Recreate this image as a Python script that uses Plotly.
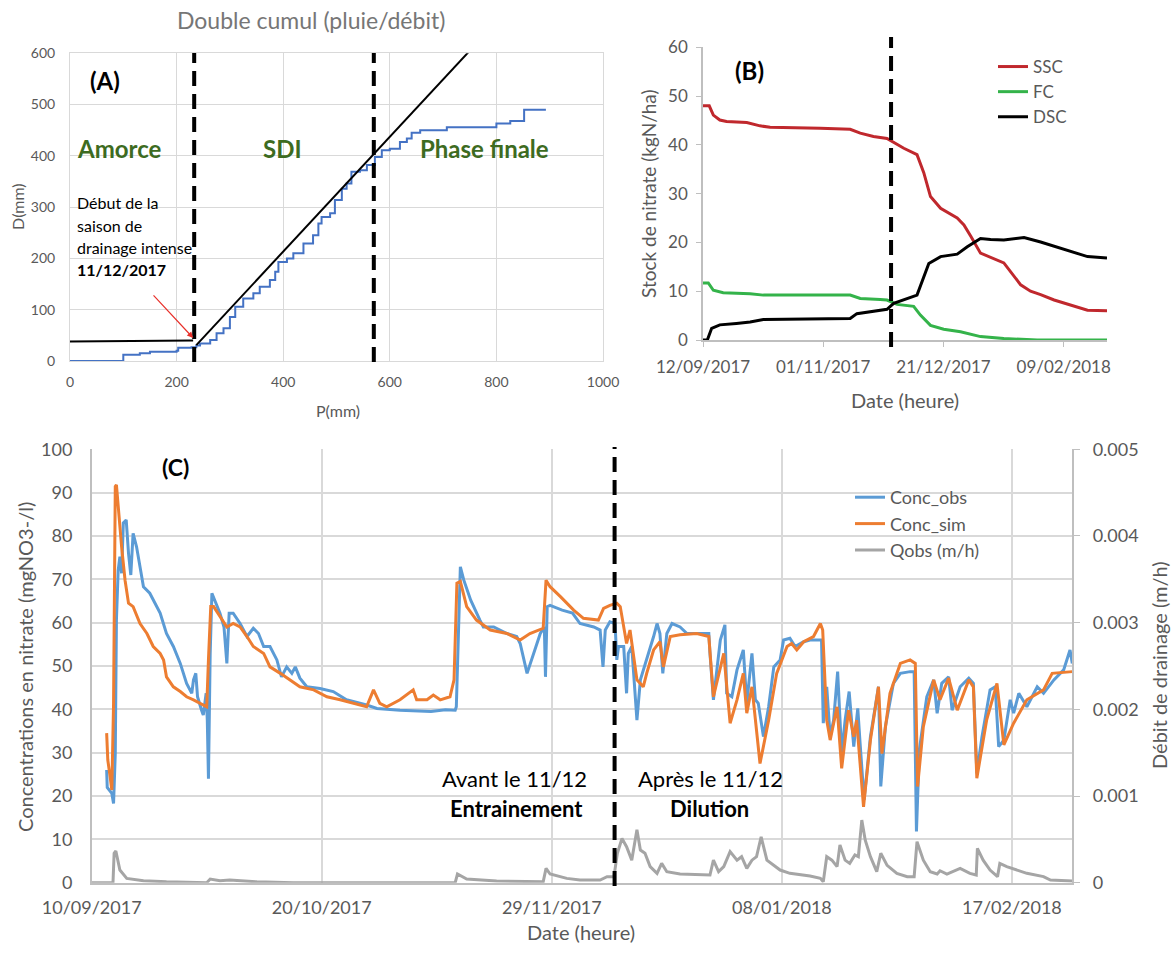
import pandas as pd
import plotly.graph_objects as go

W, H = 1172, 954
FONT = "Lato"
GRAY_TXT = "#595959"
GRID = "#d9d9d9"
AXL = "#bfbfbf"

# ---------------- Panel A : double cumul (P vs D, mm) ----------------
A_P_obs = [0, 95, 100, 131, 150, 200, 203, 228, 237, 244, 263, 275, 288, 300, 310, 325, 344, 356,
           375, 385, 391, 407, 419, 438, 456, 466, 472, 488, 497, 510, 519, 528, 544, 557, 572, 585,
           600, 619, 632, 641, 657, 707, 782, 800, 826, 850, 852, 891]
A_D_obs = [0, 0, 12, 15, 18, 20, 26, 27, 30, 34, 41, 54, 64, 86, 106, 122, 132, 145,
           158, 174, 193, 200, 210, 229, 245, 268, 281, 288, 314, 336, 346, 369, 372, 382, 398, 411,
           414, 427, 434, 445, 450, 456, 456, 463, 468, 468, 490, 492]
A_P_amorce = [0, 231]
A_D_amorce = [38, 40]
A_P_sdi = [237, 750]
A_D_sdi = [31, 605]
A_phase_limits = [233, 570]
A_arrow_P, A_arrow_D = 231, 45
A_xticks = [0, 200, 400, 600, 800, 1000]

# ---------------- Panel B : stocks (kgN/ha) ----------------
B_start = "2017-09-12"
B_end_day = 168
B_SSC_d = [0, 2.6, 4.3, 7, 9.8, 18.2, 23.7, 27.9, 48.7, 61.2, 65.4, 70.9, 76.5, 80.7, 83.5, 89,
           91.8, 94.6, 98.8, 105.7, 108.5, 111.3, 115.4, 125.1, 132.1, 136.2, 140.4, 146, 152.9, 159.9, 168]
B_SSC_v = [48, 48, 46.1, 45.1, 44.8, 44.6, 43.9, 43.6, 43.4, 43.2, 42.4, 41.7, 41.3, 40, 39.3, 38,
           34.3, 29.4, 27.0, 25.0, 23.6, 21.3, 17.8, 15.8, 11.3, 10, 9.3, 8.2, 7.2, 6.1, 6.0]
B_FC_d = [0, 2.2, 4.3, 8.4, 19.6, 25.1, 61.2, 65.4, 73.7, 76.5, 80.7, 87.6, 90.4, 94.6, 100.1,
          107.1, 115.4, 125.1, 139, 168]
B_FC_v = [11.7, 11.7, 10.2, 9.7, 9.5, 9.2, 9.2, 8.5, 8.3, 8.2, 7.3, 6.9, 5.1, 3.0, 2.2,
          1.7, 0.7, 0.3, 0.0, 0.0]
B_DSC_d = [0, 1.8, 3.6, 7, 13.9, 19.6, 25.1, 61.2, 64, 69.6, 76.5, 79.3, 83.5, 89, 93.9, 98.8,
           105.7, 109.9, 115.4, 119.6, 125.1, 133.5, 140.4, 148.7, 159.9, 168]
B_DSC_v = [0, 0, 2.4, 3.1, 3.4, 3.7, 4.2, 4.4, 5.4, 5.8, 6.3, 7.5, 8.2, 9.2, 15.7, 17.1,
           17.6, 19.1, 20.8, 20.6, 20.5, 21.0, 20.1, 18.8, 17.1, 16.8]
B_dash_date = "2017-11-29 05:00"
B_ticks = ["2017-09-12", "2017-11-01", "2017-12-21", "2018-02-09"]
B_ticklabels = ["12/09/2017", "01/11/2017", "21/12/2017", "09/02/2018"]

# ---------------- Panel C : concentrations & debit ----------------
C_start = "2017-09-10"
C_end_day = 170.5
C_obs_d = [2.6, 2.7, 3.5, 3.8, 4.1, 4.3, 4.6, 4.9, 5.2, 5.5,
           6.0, 6.4, 6.8, 7.2, 7.8, 9.0, 10.1, 11.3, 11.9, 13.0,
           14.2, 15.4, 16.5, 17.4, 17.7, 18.1, 18.4, 19.1, 19.4, 19.9,
           20.1, 20.3, 20.6, 20.9, 21.4, 22.3, 23.0, 23.5, 23.9, 24.6,
           25.8, 27.0, 28.1, 29.0, 29.9, 31.0, 32.2, 33.0, 33.9, 34.8,
           35.4, 36.2, 37.4, 39.7, 42.0, 44.3, 47.8, 49.6, 53.6, 56.0,
           59.0, 61.5, 63.2, 63.4, 63.7, 64.1, 64.7, 65.9, 67.5, 68.1,
           69.9, 72.2, 73.9, 74.5, 75.7, 76.8, 78.0, 78.7, 78.9, 79.2,
           79.7, 81.8, 83.6, 84.9, 87.3, 88.4, 88.9, 89.3, 90.1, 91.0,
           91.3, 91.6, 92.5, 93.0, 93.3, 93.9, 94.8, 95.4, 96.5, 97.7,
           98.3, 98.8, 99.3, 100.0, 100.9, 102.3, 103.5, 105.8, 107.3, 107.5,
           108.1, 109.3, 110.1, 110.4, 111.3, 112.2, 113.3, 113.9, 114.8, 115.4,
           115.9, 116.8, 117.7, 118.6, 119.7, 120.3, 121.4, 122.3, 123.8, 124.9,
           126.9, 127.2, 127.8, 128.4, 129.0, 129.7, 130.4, 131.0, 131.7, 132.5,
           133.2, 133.6, 134.3, 135.4, 136.8, 137.2, 138.0, 139.4, 140.6, 142.3,
           143.0, 143.4, 143.9, 145.2, 146.4, 147.0, 147.8, 149.0, 149.6, 151.0,
           152.5, 153.3, 153.9, 154.8, 156.2, 157.1, 157.7, 158.6, 159.7, 160.3,
           161.2, 162.6, 164.4, 165.5, 167.3, 169.0, 170.1, 170.5]
C_obs_v = [26, 22, 20.6, 18.3, 29.8, 60.6, 72, 75.2, 71.4, 83,
           83.7, 76, 71, 80.6, 77.5, 68.3, 66.8, 63.7, 62.2, 57.5,
           54.5, 50.6, 46, 43.7, 46.8, 48.3, 42.9, 39.8, 38.7, 43.7,
           37.5, 24, 52.9, 66.8, 65.2, 62.2, 59, 50.6, 62.2, 62.2,
           59.8, 56.8, 58.7, 57.5, 54.5, 54.5, 51.4, 47.5, 49.8, 48.3,
           49.8, 47.2, 45.2, 44.8, 44.1, 42.2, 41.0, 40.2, 39.8, 39.6,
           39.5, 39.9, 39.8, 40.6, 52.9, 72.9, 69.8, 65.2, 60.6, 59,
           59, 57.5, 56.8, 55.2, 48.3, 52.9, 57.5, 59, 47.5, 63.7,
           64, 62.9, 62.2, 59.8, 59, 58.3, 49.8, 58.3, 60.2, 59.8,
           51.4, 54.5, 54.5, 43.7, 52.9, 54.5, 37.5, 46.8, 51.4, 56.8,
           59.8, 57.5, 48.3, 57.5, 59.8, 59, 57.5, 57.5, 57.5, 52.9,
           42.2, 56, 59.5, 43.7, 42.9, 49.1, 53.7, 41.4, 52.9, 42.2,
           41.4, 33.7, 40.6, 49.8, 51.4, 56, 56.4, 54.5, 55.6, 56,
           56, 36.8, 45.2, 33.7, 37.5, 48.7, 29.8, 37.5, 44.1, 31.4,
           40.2, 32.2, 19.1, 33.7, 45.2, 22.2, 36, 46, 48.3, 48.7,
           48.7, 11.8, 30.6, 42.9, 46.8, 39.1, 46, 47.5, 39.8, 45.2,
           47.2, 46, 25.2, 33.7, 44.5, 45.2, 31.4, 32.9, 42.2, 39.1,
           43.7, 40.6, 45.2, 43.7, 46.8, 49.1, 53.7, 50.6]
C_sim_d = [2.6, 2.8, 3.2, 3.5, 3.8, 4.1, 4.3, 4.6, 5.2, 5.8,
           6.4, 7.2, 8.4, 9.6, 10.7, 11.9, 12.5, 13.0, 14.2, 15.4,
           16.5, 17.7, 18.8, 20.0, 20.3, 20.7, 21.2, 22.3, 23.5, 24.6,
           25.8, 27.0, 28.1, 29.9, 31.0, 32.8, 34.5, 36.2, 38.6, 40.9,
           43.2, 45.5, 47.8, 49.0, 50.1, 51.3, 53.6, 55.9, 56.5, 58.3,
           59.4, 60.6, 62.3, 63.0, 63.5, 64.1, 65.2, 66.9, 69.3, 72.2,
           74.5, 76.2, 78.5, 79.0, 79.7, 81.5, 83.8, 85.5, 88.1, 89.0,
           90.1, 91.3, 91.9, 93.0, 93.6, 94.8, 95.9, 96.5, 97.7, 98.8,
           99.4, 100.6, 102.3, 105.2, 107.3, 108.1, 109.9, 111.0, 112.2, 113.3,
           113.9, 114.8, 116.2, 117.7, 119.1, 120.9, 121.7, 122.6, 123.8, 125.5,
           126.7, 127.1, 127.8, 128.4, 129.6, 130.4, 131.6, 132.5, 133.0, 134.2,
           135.4, 136.8, 137.4, 138.8, 140.6, 142.3, 143.2, 143.6, 144.6, 146.4,
           147.5, 149.0, 150.5, 152.5, 153.3, 153.9, 155.6, 157.4, 158.6, 160.3,
           162.6, 165.5, 167.0, 170.5]
C_sim_v = [34.5, 28.3, 24.5, 21.4, 41.4, 91.4, 91.8, 86.8, 77.5, 69.8,
           64.5, 63.7, 59.8, 57.5, 54.5, 52.9, 51.4, 47.5, 45.2, 44.1,
           42.9, 42.2, 41.4, 40.6, 51.4, 63.7, 63.7, 61.4, 59, 59.8,
           59, 56.8, 54.5, 52.9, 49.8, 48.3, 46.8, 45.2, 44.5, 42.9,
           42.2, 41.4, 40.6, 44.5, 41.4, 40.6, 42.2, 44.5, 42.2, 42.2,
           43.3, 42.2, 42.9, 46.8, 69.1, 69.5, 63.7, 60.6, 58.3, 57.5,
           56, 57.5, 58.7, 69.8, 68.3, 66, 62.9, 61, 60.6, 63.3,
           64, 64.5, 63.7, 55.2, 58.3, 46.8, 45.2, 48.3, 53.7, 55.6,
           49.8, 56.8, 57.2, 57.5, 56.8, 42.9, 52.9, 36.8, 42.2, 48.3,
           39.1, 45.2, 27.5, 37.5, 48.3, 54.5, 55.2, 53.7, 55.6, 56.8,
           59.8, 58.3, 37.5, 32.9, 40.6, 26.4, 39.8, 33.7, 37.5, 17.5,
           32.9, 45.2, 29.8, 43.7, 50.6, 51.4, 50.6, 22.2, 36, 46.8,
           42.2, 47.2, 39.8, 46.8, 45.2, 24.1, 37.5, 46, 31.8, 36.8,
           42.2, 44.5, 48.3, 48.7]
C_Q_d = [0, 3.7, 3.9, 4.2, 4.9, 6.1, 9.0, 13.0, 20.0, 20.6,
         22.3, 24.0, 28.7, 35.0, 63.2, 63.6, 65.2, 70.4, 78.5, 79.0,
         79.7, 82.6, 84.9, 88.4, 89.6, 90.8, 91.4, 92.2, 93.0, 93.9,
         94.8, 95.4, 96.2, 97.1, 98.3, 99.1, 100.0, 102.3, 107.5, 108.1,
         109.0, 109.9, 111.0, 112.2, 113.0, 113.9, 114.8, 115.6, 116.4, 117.4,
         119.7, 121.4, 124.9, 126.7, 127.2, 127.8, 128.7, 129.6, 130.1, 131.0,
         131.8, 132.7, 133.3, 133.9, 134.5, 135.4, 136.5, 137.2, 138.3, 140.0,
         141.8, 143.0, 143.5, 144.6, 145.8, 147.0, 147.5, 148.7, 151.0, 152.7,
         153.8, 154.0, 155.0, 156.2, 157.5, 157.9, 159.1, 160.9, 162.6, 165.5,
         166.7, 170.5]
C_Q_v = [0, 0, 0.00034, 0.000365, 0.000146, 0.00005, 0.000023, 0.00001, 0, 0.000042,
         0.000023, 0.00003, 0.00001, 0, 0, 0.0001, 0.000042, 0.00002, 0.00001, 0.000165,
         0.0001, 0.00005, 0.00003, 0.00003, 0.00007, 0.00007, 0.00034, 0.00051, 0.000415, 0.00026,
         0.00061, 0.000377, 0.00034, 0.000185, 0.000108, 0.000223, 0.000127, 0.0001, 0.000088, 0.00026,
         0.000127, 0.000185, 0.000358, 0.00026, 0.0003, 0.000165, 0.00026, 0.0003, 0.00053, 0.00026,
         0.000146, 0.000108, 0.000077, 0.00005, 0.00001, 0.0003, 0.00026, 0.000185, 0.000435, 0.00026,
         0.000223, 0.00032, 0.0003, 0.000723, 0.00049, 0.0003, 0.000127, 0.00034, 0.0002, 0.000108,
         0.00007, 0.00007, 0.000473, 0.00026, 0.000127, 0.0001, 0.000138, 0.0001, 0.000165, 0.000108,
         0.000088, 0.000396, 0.00026, 0.000146, 0.00007, 0.000223, 0.000185, 0.000146, 0.000108, 0.00007,
         0.00003, 0.00002]
C_dash_date = "2017-12-09 22:00"
C_ticks = ["2017-09-10", "2017-10-20", "2017-11-29", "2018-01-08", "2018-02-17"]
C_ticklabels = ["10/09/2017", "20/10/2017", "29/11/2017", "08/01/2018", "17/02/2018"]
C_q_ticks = [0, 0.001, 0.002, 0.003, 0.004, 0.005]
C_q_ticklabels = ["0", "0.001", "0.002", "0.003", "0.004", "0.005"]


def px(x):
    return x / W


def py(y):
    return 1 - y / H


def dates(start, days):
    return pd.Timestamp(start) + pd.to_timedelta(days, unit="D")


fig = go.Figure()

# ---- A traces
fig.add_trace(go.Scatter(x=A_P_obs, y=A_D_obs, mode="lines", xaxis="x", yaxis="y",
                         line=dict(color="#4472c4", width=2, shape="hv"), showlegend=False))
fig.add_trace(go.Scatter(x=A_P_amorce, y=A_D_amorce, mode="lines", xaxis="x", yaxis="y",
                         line=dict(color="black", width=2), showlegend=False))
fig.add_trace(go.Scatter(x=A_P_sdi, y=A_D_sdi, mode="lines", xaxis="x", yaxis="y",
                         line=dict(color="black", width=2), showlegend=False))

# ---- B traces
fig.add_trace(go.Scatter(x=dates(B_start, B_SSC_d), y=B_SSC_v, mode="lines", name="SSC",
                         xaxis="x2", yaxis="y2", legend="legend2",
                         line=dict(color="#c0282d", width=3)))
fig.add_trace(go.Scatter(x=dates(B_start, B_FC_d), y=B_FC_v, mode="lines", name="FC",
                         xaxis="x2", yaxis="y2", legend="legend2",
                         line=dict(color="#34b34a", width=3)))
fig.add_trace(go.Scatter(x=dates(B_start, B_DSC_d), y=B_DSC_v, mode="lines", name="DSC",
                         xaxis="x2", yaxis="y2", legend="legend2",
                         line=dict(color="black", width=3)))

# ---- C traces
fig.add_trace(go.Scatter(x=dates(C_start, C_obs_d), y=C_obs_v, mode="lines", name="Conc_obs",
                         xaxis="x3", yaxis="y3", legend="legend",
                         line=dict(color="#5b9bd5", width=3)))
fig.add_trace(go.Scatter(x=dates(C_start, C_sim_d), y=C_sim_v, mode="lines", name="Conc_sim",
                         xaxis="x3", yaxis="y3", legend="legend",
                         line=dict(color="#ed7d31", width=3)))
fig.add_trace(go.Scatter(x=dates(C_start, C_Q_d), y=C_Q_v, mode="lines", name="Qobs (m/h)",
                         xaxis="x3", yaxis="y4", legend="legend",
                         line=dict(color="#a5a5a5", width=3)))

tick_a = dict(family=FONT, size=14, color=GRAY_TXT)
tick_b = dict(family=FONT, size=17, color=GRAY_TXT)
tick_c = dict(family=FONT, size=18, color=GRAY_TXT)

fig.update_layout(
    width=W, height=H, margin=dict(l=0, r=0, t=0, b=0, autoexpand=False),
    paper_bgcolor="white", plot_bgcolor="white",
    font=dict(family=FONT, color=GRAY_TXT),
    # A axes
    xaxis=dict(domain=[px(70), px(603)], range=[0, 1000], tickvals=A_xticks, anchor="y",
               showgrid=True, gridcolor=GRID, gridwidth=1, showline=True, linecolor=GRID,
               mirror=True, zeroline=False, ticks="", tickfont=tick_a, ticklabelstandoff=8),
    yaxis=dict(domain=[py(361), py(53.3)], range=[0, 600], dtick=100, anchor="x",
               showgrid=True, gridcolor=GRID, gridwidth=1, showline=True, linecolor=GRID,
               mirror=True, zeroline=False, ticks="", tickfont=tick_a, ticklabelstandoff=11),
    # B axes
    xaxis2=dict(domain=[px(703), px(1107)], type="date",
                range=[dates(B_start, 0), dates(B_start, B_end_day)], anchor="y2",
                tickvals=B_ticks, ticktext=B_ticklabels, ticks="outside", ticklen=5,
                tickcolor=AXL, showline=True, linecolor=AXL, linewidth=1.5,
                showgrid=False, zeroline=False, tickfont=tick_b, ticklabelstandoff=6),
    yaxis2=dict(domain=[py(340), py(47.3)], range=[0, 60], dtick=10, anchor="x2",
                ticks="outside", ticklen=5, tickcolor=AXL, showline=True, linecolor=AXL,
                linewidth=1.5, showgrid=False, zeroline=False, tickfont=tick_b,
                ticklabelstandoff=5),
    # C axes
    xaxis3=dict(domain=[px(91.7), px(1072.3)], type="date",
                range=[dates(C_start, 0), dates(C_start, C_end_day)], anchor="y3",
                tickvals=C_ticks, ticktext=C_ticklabels, ticks="",
                showgrid=True, gridcolor=GRID, gridwidth=2, showline=True, linecolor=AXL,
                linewidth=2, zeroline=False, tickfont=tick_c, ticklabelstandoff=8),
    yaxis3=dict(domain=[py(882.7), py(449.3)], range=[0, 100], dtick=10, anchor="x3",
                showgrid=True, gridcolor=GRID, gridwidth=2, showline=True, linecolor=AXL,
                linewidth=1.5, zeroline=False, ticks="", tickfont=tick_c,
                ticklabelstandoff=14),
    yaxis4=dict(overlaying="y3", side="right", anchor="x3", range=[0, 0.005],
                tickvals=C_q_ticks, ticktext=C_q_ticklabels, showgrid=False,
                showline=True, linecolor=AXL, linewidth=1.5, ticks="outside", ticklen=6,
                tickcolor=AXL, zeroline=False, tickfont=tick_c, ticklabelstandoff=9),
    legend=dict(x=px(850), y=py(479), xanchor="left", yanchor="top",
                bgcolor="rgba(0,0,0,0)", font=dict(family=FONT, size=18, color=GRAY_TXT),
                tracegroupgap=0),
    legend2=dict(x=px(993), y=py(49), xanchor="left", yanchor="top",
                 bgcolor="rgba(0,0,0,0)", font=dict(family=FONT, size=17, color=GRAY_TXT),
                 tracegroupgap=0),
)

DASH = dict(color="black", width=4, dash="15px,8px")
shapes = []
for p in A_phase_limits:
    shapes.append(dict(type="line", xref="x", yref="paper", x0=p, x1=p,
                       y0=py(362), y1=py(53), line=DASH))
shapes.append(dict(type="line", xref="x2", yref="paper", x0=B_dash_date, x1=B_dash_date,
                   y0=py(347), y1=py(37), line=DASH))
shapes.append(dict(type="line", xref="x3", yref="paper", x0=C_dash_date, x1=C_dash_date,
                   y0=py(886), y1=py(447), line=DASH))
fig.update_layout(shapes=shapes)

ann = []


def txt(x, y, s, size, color="black", bold=False, angle=0, xanchor="center"):
    if bold:
        s = "<b>" + s + "</b>"
    ann.append(dict(x=px(x), y=py(y), xref="paper", yref="paper", text=s, showarrow=False,
                    xanchor=xanchor, yanchor="middle", textangle=angle,
                    font=dict(family=FONT, size=size, color=color)))


GREEN = "#3d6b21"
# Panel A text
txt(311, 20, "Double cumul (pluie/débit)", 23, "#767676")
txt(105, 80, "(A)", 24, bold=True)
txt(119, 148, "Amorce", 24, GREEN, bold=True)
txt(282, 148, "SDI", 24, GREEN, bold=True)
txt(484, 148, "Phase finale", 24, GREEN, bold=True)
txt(75, 202, "Début de la", 16, xanchor="left")
txt(75, 225, "saison de", 16, xanchor="left")
txt(75, 247, "drainage intense", 16, xanchor="left")
txt(75, 270, "11/12/2017", 16, bold=True, xanchor="left")
txt(17, 207, "D(mm)", 16, GRAY_TXT, angle=-90)
txt(338, 410, "P(mm)", 16, GRAY_TXT)
# Panel B text
txt(749, 70, "(B)", 24, bold=True)
txt(648, 194, "Stock de nitrate (kgN/ha)", 19, GRAY_TXT, angle=-90)
txt(905, 400, "Date (heure)", 20, GRAY_TXT)
# Panel C text
txt(175, 467, "(C)", 23, bold=True)
txt(25, 667, "Concentrations en nitrate (mgNO3-/l)", 20, GRAY_TXT, angle=-90)
txt(1159, 665, "Débit de drainage (m/h)", 20, GRAY_TXT, angle=-90)
txt(581, 932, "Date (heure)", 20, GRAY_TXT)
txt(514, 778, "Avant le 11/12", 22)
txt(516, 808, "Entrainement", 22, bold=True)
txt(710, 778, "Après le 11/12", 22)
txt(709, 808, "Dilution", 22, bold=True)

# red arrow in panel A
ann.append(dict(x=A_arrow_P, y=A_arrow_D, xref="x", yref="y", text="", showarrow=True,
                ax=-41, ay=-44, arrowcolor="#e8302a", arrowwidth=1.2, arrowhead=2,
                arrowsize=1))
fig.update_layout(annotations=ann)

fig.write_html("out.html", config={"displayModeBar": False},
               post_script="document.body.style.margin='0';")
